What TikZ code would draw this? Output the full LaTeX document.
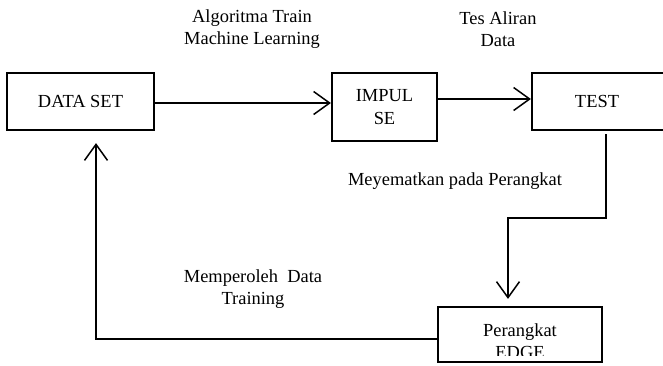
\documentclass[tikz,border=0pt]{standalone}
\usepackage{fontspec}
\setmainfont{Liberation Serif}
\usetikzlibrary{arrows.meta}
\begin{document}
\begin{tikzpicture}[x=1bp,y=-1bp,
  box/.style={draw,line width=2.2bp,inner sep=0pt,align=center},
  lbl/.style={align=center,inner sep=0pt},
  conn/.style={line width=1.5bp,-{Straight Barb[length=16bp,width=23bp,line width=1.5bp]}},
  every node/.append style={font=\fontsize{18.5}{22.5}\selectfont}]
\useasboundingbox (0,0) rectangle (663,365);
\node[box,minimum width=147bp,minimum height=57bp] (ds) at (80.5,101.5) {DATA SET};
\node[box,minimum width=105bp,minimum height=68bp] (imp) at (384.5,107) {IMPUL\\SE};
\node[box,minimum width=140bp,minimum height=57bp] (test) at (602,101.5) {};
\node[lbl] (testtxt) at (597,101.5) {TEST};
\node[box,minimum width=164bp,minimum height=55bp] (edge) at (520,334.5) {};
\begin{scope}
\clip (440,309) rectangle (600,355.5);
\node[lbl] (edgetxt) at (520,341) {Perangkat\\EDGE};
\end{scope}
\node[lbl] (l1) at (252,29) {Algoritma Train\\Machine Learning};
\node[lbl] (l2) at (498,29) {Tes Aliran\\Data};
\node[lbl] (l3) at (455,181) {Meyematkan pada Perangkat};
\node[lbl] (l4) at (253,289) {Memperoleh\ \ Data\\Training};
\coordinate (c1) at (606,218);
\coordinate (c2) at (508,218);
\coordinate (c3) at (96,339);
\draw[conn] (ds.east |- 0,103) -- (imp.west |- 0,103);
\draw[conn] (imp.east |- 0,99) -- (test.west |- 0,99);
\draw[conn,shorten >=7bp] (606,134) -- (c1) -- (c2) -- (c2 |- edge.north);
\draw[conn,shorten >=12bp] (edge.west |- c3) -- (c3) -- (c3 |- ds.south);
\end{tikzpicture}
\end{document}
